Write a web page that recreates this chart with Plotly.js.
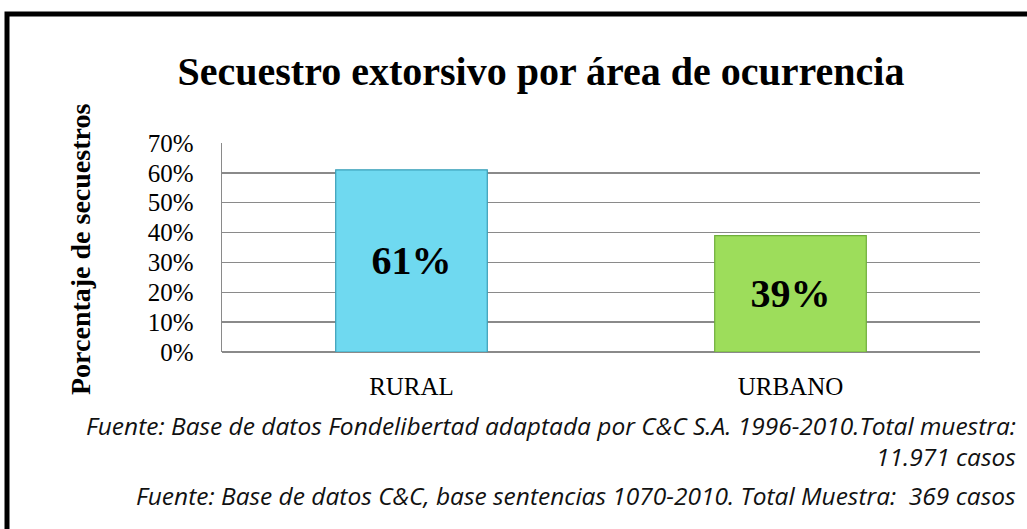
<!DOCTYPE html>
<html><head><meta charset="utf-8">
<script src="https://cdn.plot.ly/plotly-3.0.1.min.js"></script>
<style>html,body{margin:0;padding:0;background:#fff}#c{width:1027px;height:529px}</style>
</head><body><div id="c"></div>
<script>
const categories = ["RURAL", "URBANO"];
const values = [0.61, 0.39];
const labels = ["61%", "39%"];
const barColors = ["#6fd9f0", "#9ddd5b"];
const barLines = ["#3a9fb8", "#6fae3a"];
const yTicks = [0, 0.1, 0.2, 0.3, 0.4, 0.5, 0.6, 0.7];
const yTickText = ["0%", "10%", "20%", "30%", "40%", "50%", "60%", "70%"];
const titleText = "Secuestro extorsivo por área de ocurrencia";
const yTitle = "Porcentaje de secuestros";
const notes = ["Fuente: Base de datos Fondelibertad adaptada por C&C S.A. 1996-2010.Total muestra:",
  "11.971 casos",
  "Fuente: Base de datos C&C, base sentencias 1070-2010. Total Muestra:  369 casos"];

const serif = "Liberation Serif, serif";
const L = 222, R = 980, T = 143, B = 352;
const px2x = p => (p - L) / (R - L);
const px2y = p => (B - p) / (B - T);

const trace = {
  type: "bar", x: categories, y: values, text: labels,
  textposition: "inside", insidetextanchor: "middle",
  textfont: {family: serif, size: 40, color: "#000", weight: "bold"},
  marker: {color: barColors, line: {color: barLines, width: 1.2}},
  hoverinfo: "skip", width: 0.4
};
const noteY = [425, 456, 495];
const annotations = notes.map((t, i) => ({
  text: "<i>" + t + "</i>", xref: "paper", yref: "paper",
  x: px2x(1018), y: px2y(noteY[i]), xanchor: "right", yanchor: "middle",
  showarrow: false, font: {family: "Open Sans, sans-serif", size: 24.5, color: "#111"}
}));
annotations.push({
  text: "<b>" + yTitle + "</b>", xref: "paper", yref: "paper",
  x: px2x(80), y: px2y(250), textangle: -90, xanchor: "center", yanchor: "middle",
  showarrow: false, font: {family: serif, size: 28, color: "#000"}
});
const layout = {
  width: 1027, height: 529,
  margin: {l: L, r: 1027 - R, t: T, b: 529 - B, pad: 0},
  paper_bgcolor: "#fff", plot_bgcolor: "#fff",
  showlegend: false,
  title: {text: "<b>" + titleText + "</b>", xref: "container", yref: "container",
    x: 541 / 1027, y: 1 - 71 / 529, xanchor: "center", yanchor: "middle",
    font: {family: serif, size: 40, color: "#000"}},
  xaxis: {type: "category", showgrid: false, zeroline: false, showline: false, ticks: "",
    tickfont: {family: serif, size: 25, color: "#000"}, ticklabelstandoff: 17},
  yaxis: {range: [0, 0.7], tickvals: yTicks, ticktext: yTickText, showgrid: true,
    gridcolor: "#8a8a8a", gridwidth: 1.5, zeroline: true, zerolinecolor: "#8a8a8a", zerolinewidth: 1.5,
    showline: true, linecolor: "#8a8a8a", linewidth: 1.5, ticks: "",
    tickfont: {family: serif, size: 25, color: "#000"}, ticklabelstandoff: 22},
  bargap: 0.6,
  annotations: annotations,
  shapes: [{type: "rect", xref: "paper", yref: "paper", x0: px2x(7), x1: px2x(1032), y0: px2y(540), y1: px2y(14),
    line: {color: "#000", width: 5}, fillcolor: "rgba(0,0,0,0)", layer: "above"}]
};
Plotly.newPlot("c", [trace], layout, {displayModeBar: false, staticPlot: true});
</script></body></html>
